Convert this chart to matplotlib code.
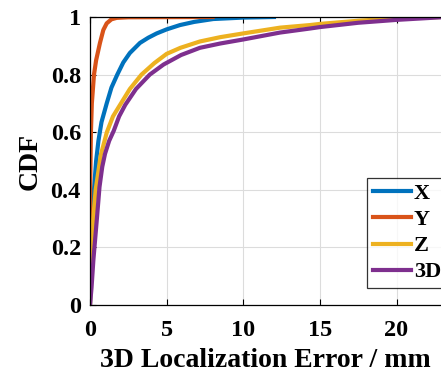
import matplotlib
matplotlib.use("Agg")
import matplotlib.pyplot as plt

# CDF curves (error in mm, cumulative fraction)
x_err = [0, 0.1, 0.26, 0.4, 0.55, 0.75, 1.09, 1.4, 1.78, 2.17, 2.6, 3.26, 3.8, 4.35, 5.0, 5.87, 6.8, 8.04, 10, 12]
x_cdf = [0, 0.2, 0.4, 0.5, 0.57, 0.635, 0.70, 0.755, 0.8, 0.842, 0.875, 0.91, 0.928, 0.943, 0.957, 0.972, 0.983, 0.993, 0.998, 1.0]

y_err = [0, 0.01, 0.06, 0.12, 0.26, 0.4, 0.65, 0.87, 1.09, 1.4, 1.74, 2.5, 8.0]
y_cdf = [0, 0.4, 0.6, 0.7, 0.8, 0.85, 0.91, 0.955, 0.978, 0.992, 0.997, 0.999, 1.0]

z_err = [0, 0.05, 0.15, 0.37, 0.7, 1.1, 1.5, 2.02, 2.6, 3.36, 4.2, 5.0, 5.9, 7.17, 8.5, 10, 12.4, 14.35, 15, 17.5, 20, 22.9]
z_cdf = [0, 0.12, 0.26, 0.4, 0.52, 0.6, 0.655, 0.70, 0.75, 0.8, 0.84, 0.872, 0.893, 0.915, 0.93, 0.943, 0.963, 0.972, 0.976, 0.987, 0.995, 1.0]

d_err = [0, 0.1, 0.22, 0.45, 0.62, 0.8, 0.98, 1.25, 1.55, 1.9, 2.3, 3.0, 3.9, 4.8, 5.94, 7.17, 8.5, 10, 12.4, 14.35, 15, 17.5, 20, 22.9]
d_cdf = [0, 0.06, 0.156, 0.3, 0.41, 0.48, 0.525, 0.57, 0.605, 0.655, 0.695, 0.75, 0.8, 0.835, 0.868, 0.893, 0.908, 0.922, 0.946, 0.96, 0.965, 0.98, 0.99, 0.999]

labels = ["X", "Y", "Z", "3D"]
colors = ["#0072BD", "#D95319", "#EDB120", "#7E2F8E"]

plt.rcParams['font.family'] = ['Liberation Serif', 'DejaVu Serif']
plt.rcParams['font.weight'] = 'bold'

fig = plt.figure(figsize=(4.41, 3.74), dpi=100)
ax = fig.add_axes([90 / 441, 69 / 374, 351 / 441, 288 / 374])

for xs, ys, lab, c in zip([x_err, y_err, z_err, d_err], [x_cdf, y_cdf, z_cdf, d_cdf], labels, colors):
    ax.plot(xs, ys, color=c, lw=3.0, label=lab, solid_joinstyle='round')

ax.set_xlim(0, 22.9)
ax.set_ylim(0, 1)
ax.set_xticks([0, 5, 10, 15, 20])
ax.set_yticks([0, 0.2, 0.4, 0.6, 0.8, 1])
ax.set_yticklabels(["0", "0.2", "0.4", "0.6", "0.8", "1"])
ax.grid(True, color='#dcdcdc', lw=0.8)
ax.set_axisbelow(True)
ax.tick_params(direction='in', length=4, width=0.8, labelsize=17.5, top=True)
ax.tick_params(axis='x', pad=11)
ax.tick_params(axis='y', pad=6.5)
ax.spines['right'].set_visible(False)
for s in ['left', 'bottom', 'top']:
    ax.spines[s].set_linewidth(0.9)

ax.set_xlabel("3D Localization Error / mm", fontsize=20, fontweight='bold', labelpad=5)
ax.set_ylabel("CDF", fontsize=20, fontweight='bold', labelpad=6)

leg = ax.legend(loc='upper left', bbox_to_anchor=(367 / 441, 1 - 178 / 374), bbox_transform=fig.transFigure,
                fontsize=16, frameon=True, fancybox=False, handlelength=1.75, handletextpad=0.1,
                labelspacing=0.25, borderpad=0.25, borderaxespad=0)
leg.get_frame().set_edgecolor('black')
leg.get_frame().set_linewidth(0.9)
for t in leg.get_texts():
    t.set_fontweight('bold')

fig.savefig("out.png", dpi=100)
